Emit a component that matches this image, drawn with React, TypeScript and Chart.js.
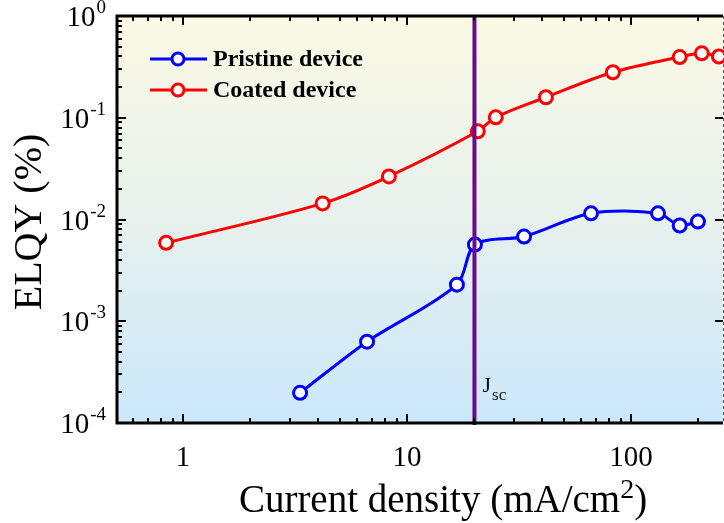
import React, { useEffect, useRef } from "react";
import { Chart, registerables } from "chart.js";

Chart.register(...registerables);

// ---- data ----
const pristineX = [3.33, 6.63, 16.7, 20.1, 33.3, 66.3, 132, 165, 199];
const pristineY = [1.98e-4, 6.3e-4, 2.29e-3, 5.67e-3, 6.8e-3, 0.0115, 0.0115, 0.00873, 0.00955];
const coatedX = [0.84, 4.2, 8.3, 20.7, 24.9, 41.7, 83, 165, 207, 247];
const coatedY = [0.0059, 0.0144, 0.0265, 0.0736, 0.101, 0.159, 0.28, 0.395, 0.43, 0.4];

const seriesNames = ["Pristine device", "Coated device"];
const seriesColors = ["#0000FF", "#FF0000"];

const xTickValues = [1, 10, 100];
const xTickLabels = ["1", "10", "100"];
const yTickValues = [1, 0.1, 0.01, 0.001, 0.0001];
const yTickExponents = ["0", "-1", "-2", "-3", "-4"];

const X_MIN = 0.507;
const X_MAX = 257.5;
const Y_MIN = 1e-4;
const Y_MAX = 1;
const JSC = 20;

const SERIF = '"Liberation Serif", "Times New Roman", serif';

function minorValues(min: number, max: number) {
  const out: { v: number; major: boolean }[] = [];
  for (let d = Math.floor(Math.log10(min)); d <= Math.ceil(Math.log10(max)); d++) {
    for (let k = 1; k <= 9; k++) {
      const v = k * Math.pow(10, d);
      if (v >= min * 0.999 && v <= max * 1.001) out.push({ v, major: k === 1 });
    }
  }
  return out;
}

const decorPlugin = {
  id: "decor",
  beforeDatasetsDraw(chart: any) {
    const { ctx, chartArea: a } = chart;
    const g = ctx.createLinearGradient(0, a.top, 0, a.bottom);
    g.addColorStop(0, "#FBF9E4");
    g.addColorStop(0.5, "#E7F1ED");
    g.addColorStop(1, "#CBE8FB");
    ctx.save();
    ctx.fillStyle = g;
    ctx.fillRect(a.left, a.top, a.right - a.left, a.bottom - a.top);
    ctx.restore();
  },
  afterDatasetsDraw(chart: any) {
    const { ctx, chartArea: a } = chart;
    const xs = chart.scales.x;
    const ys = chart.scales.y;
    ctx.save();

    // Jsc line
    const jx = xs.getPixelForValue(JSC);
    ctx.strokeStyle = "#6A0A8C";
    ctx.lineWidth = 4;
    ctx.beginPath();
    ctx.moveTo(jx, a.top);
    ctx.lineTo(jx, a.bottom + 2);
    ctx.stroke();

    // Jsc label
    ctx.fillStyle = "#111";
    ctx.textBaseline = "alphabetic";
    ctx.textAlign = "left";
    ctx.font = `22px ${SERIF}`;
    ctx.fillText("J", jx + 8, 392);
    const jw = ctx.measureText("J").width;
    ctx.font = `17px ${SERIF}`;
    ctx.fillText("sc", jx + 8 + jw + 1, 400);

    // ticks
    ctx.strokeStyle = "#000";
    ctx.lineWidth = 2;
    for (const t of minorValues(X_MIN, X_MAX)) {
      const px = Math.round(xs.getPixelForValue(t.v));
      const len = t.major ? 9 : 5;
      ctx.beginPath();
      ctx.moveTo(px, a.bottom);
      ctx.lineTo(px, a.bottom - len);
      ctx.moveTo(px, a.top);
      ctx.lineTo(px, a.top + len);
      ctx.stroke();
    }
    for (const t of minorValues(Y_MIN, Y_MAX)) {
      const py = Math.round(ys.getPixelForValue(t.v));
      const len = t.major ? 9 : 5;
      ctx.beginPath();
      ctx.moveTo(a.left, py);
      ctx.lineTo(a.left + len, py);
      if (t.major) {
        ctx.moveTo(a.right, py);
        ctx.lineTo(a.right - 8, py);
      }
      ctx.stroke();
    }

    // border (left, top, bottom solid; right thin dashed as in the cropped original)
    ctx.lineWidth = 3;
    ctx.strokeStyle = "#000";
    ctx.beginPath();
    ctx.moveTo(a.right, a.top);
    ctx.lineTo(a.left, a.top);
    ctx.lineTo(a.left, a.bottom);
    ctx.lineTo(a.right, a.bottom);
    ctx.stroke();
    ctx.lineWidth = 1;
    ctx.strokeStyle = "#555";
    ctx.setLineDash([3, 3]);
    ctx.beginPath();
    ctx.moveTo(a.right + 0.5, a.top);
    ctx.lineTo(a.right + 0.5, a.bottom);
    ctx.stroke();
    ctx.setLineDash([]);

    // y tick labels with superscripts
    ctx.fillStyle = "#000";
    yTickValues.forEach((v, i) => {
      const py = ys.getPixelForValue(v);
      const exp = yTickExponents[i];
      ctx.font = `19px ${SERIF}`;
      const ew = ctx.measureText(exp).width;
      ctx.font = `29px ${SERIF}`;
      const bw = ctx.measureText("10").width;
      const right = 106;
      ctx.textAlign = "left";
      ctx.textBaseline = "alphabetic";
      ctx.fillText("10", right - ew - bw - 1, py + 10);
      ctx.font = `19px ${SERIF}`;
      ctx.fillText(exp, right - ew, py - 3);
    });

    // x tick labels
    ctx.font = `29px ${SERIF}`;
    ctx.textAlign = "center";
    ctx.textBaseline = "alphabetic";
    xTickValues.forEach((v, i) => {
      ctx.fillText(xTickLabels[i], xs.getPixelForValue(v), 466);
    });

    // x title with superscript
    const t1 = "Current density (mA/cm";
    const t2 = "2";
    const t3 = ")";
    ctx.font = `39px ${SERIF}`;
    const w1 = ctx.measureText(t1).width;
    const w3 = ctx.measureText(t3).width;
    ctx.font = `28px ${SERIF}`;
    const w2 = ctx.measureText(t2).width;
    const total = w1 + w2 + w3;
    let x0 = 443 - total / 2;
    ctx.textAlign = "left";
    ctx.font = `39px ${SERIF}`;
    ctx.fillText(t1, x0, 512);
    ctx.font = `28px ${SERIF}`;
    ctx.fillText(t2, x0 + w1, 498);
    ctx.font = `39px ${SERIF}`;
    ctx.fillText(t3, x0 + w1 + w2, 512);

    // y title
    ctx.save();
    ctx.translate(30, 222);
    ctx.rotate(-Math.PI / 2);
    ctx.font = `40px ${SERIF}`;
    ctx.textAlign = "center";
    ctx.textBaseline = "middle";
    ctx.fillText("ELQY (%)", 0, 0);
    ctx.restore();

    // legend
    const rows = [59, 90];
    seriesNames.forEach((name, i) => {
      const y = rows[i];
      ctx.strokeStyle = seriesColors[i];
      ctx.lineWidth = 3;
      ctx.beginPath();
      ctx.moveTo(150, y);
      ctx.lineTo(207, y);
      ctx.stroke();
      ctx.beginPath();
      ctx.arc(178, y, 6, 0, Math.PI * 2);
      ctx.fillStyle = "#fff";
      ctx.fill();
      ctx.stroke();
      ctx.fillStyle = "#000";
      ctx.font = `bold 24px ${SERIF}`;
      ctx.textAlign = "left";
      ctx.textBaseline = "middle";
      ctx.fillText(name, 213, y + 1);
    });

    ctx.restore();
  },
};

export default function App() {
  const ref = useRef<HTMLCanvasElement | null>(null);
  useEffect(() => {
    if (!ref.current) return;
    const mk = (xsArr: number[], ysArr: number[], i: number, tension: number) => ({
      label: seriesNames[i],
      data: xsArr.map((x, k) => ({ x, y: ysArr[k] })),
      borderColor: seriesColors[i],
      backgroundColor: seriesColors[i],
      borderWidth: 3,
      pointRadius: 6.5,
      pointBorderWidth: 3,
      pointBackgroundColor: "#FFFFFF",
      pointBorderColor: seriesColors[i],
      tension,
      fill: false,
      clip: 4,
    });
    const chart = new Chart(ref.current, {
      type: "line",
      data: {
        datasets: [mk(pristineX, pristineY, 0, 0.3), mk(coatedX, coatedY, 1, 0.35)],
      },
      options: {
        responsive: false,
        animation: false,
        devicePixelRatio: 1,
        layout: { autoPadding: false, padding: { left: 117, right: 1, top: 16, bottom: 100 } },
        plugins: { legend: { display: false }, tooltip: { enabled: false } },
        scales: {
          x: { type: "logarithmic", min: X_MIN, max: X_MAX, display: false },
          y: { type: "logarithmic", min: Y_MIN, max: Y_MAX, display: false },
        },
      },
      plugins: [decorPlugin],
    } as any);
    return () => chart.destroy();
  }, []);
  return (
    <div style={{ position: "fixed", left: 0, top: 0, width: 724, height: 523, background: "#fff" }}>
      <canvas ref={ref} width={724} height={523} style={{ width: 724, height: 523, display: "block" }} />
    </div>
  );
}
